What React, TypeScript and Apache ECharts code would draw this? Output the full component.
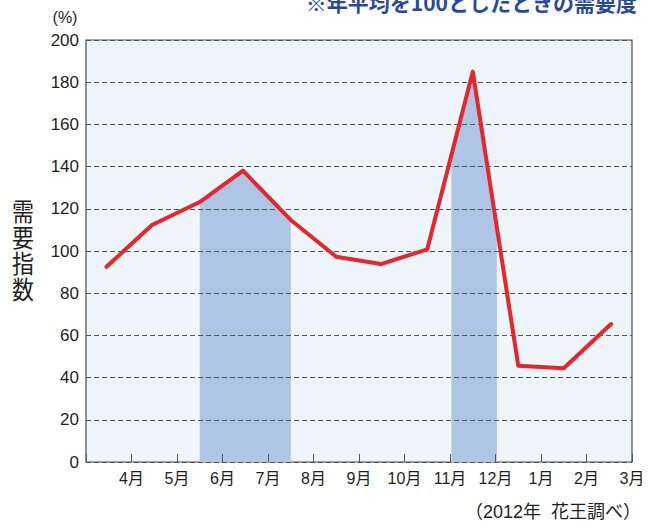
import React, { useEffect, useRef } from "react";
import * as echarts from "echarts";

// Tick labels placed at x = 1..12 (right edge of each month slot)
const monthLabels = ["4月", "5月", "6月", "7月", "8月", "9月", "10月", "11月", "12月", "1月", "2月", "3月"];
// Horizontal positions of the plotted points (in month-slot units)
const pointX = [0.45, 1.45, 2.5, 3.45, 4.5, 5.5, 6.48, 7.5, 8.5, 9.5, 10.5, 11.54];
// Demand index values (%)
const demand = [92.5, 112.3, 123.2, 138.1, 114.7, 97.3, 93.8, 100.8, 185, 45.6, 44.4, 65.4];
// Shaded ranges under the line (x from, x to)
const shadeRanges = [
  [2.5, 4.5],
  [8.03, 9.03],
];
const yTicks = { min: 0, max: 200, interval: 20 };
const yTitleChars = ["需", "要", "指", "数"];

const NUM_FONT = "'Liberation Sans', 'Noto Sans CJK JP', sans-serif";
const JP_FONT = "'Noto Sans CJK JP', 'Liberation Sans', sans-serif";

function lineValueAt(x: number): number {
  for (let i = 0; i < pointX.length - 1; i++) {
    const x0 = pointX[i];
    const x1 = pointX[i + 1];
    if (x >= x0 && x <= x1) {
      const t = (x - x0) / (x1 - x0);
      return demand[i] + t * (demand[i + 1] - demand[i]);
    }
  }
  return x < pointX[0] ? demand[0] : demand[demand.length - 1];
}

export default function App() {
  const ref = useRef<HTMLDivElement>(null);

  useEffect(() => {
    document.body.style.margin = "0";
    const chart = echarts.init(ref.current!, null, { renderer: "svg" });
    const lineData = pointX.map((x, i) => [x, demand[i]]);

    chart.setOption({
      animation: false,
      grid: {
        left: 86,
        right: 21,
        top: 40,
        bottom: 65,
        show: true,
        backgroundColor: "#EEF6FC",
        borderColor: "#4a4a4a",
        borderWidth: 1.2,
        z: 0,
      },
      xAxis: {
        type: "value",
        min: 0,
        max: 12,
        interval: 1,
        z: 2,
        axisLine: { show: false },
        axisTick: { show: true, inside: true, length: 8, lineStyle: { color: "#555", width: 1 } },
        splitLine: { show: false },
        axisLabel: {
          showMinLabel: true,
          showMaxLabel: true,
          formatter: (v: number) => (v >= 1 && v <= 12 ? monthLabels[Math.round(v) - 1] : ""),
          fontSize: 16,
          color: "#231F20",
          fontFamily: NUM_FONT,
          margin: 8,
        },
      },
      yAxis: {
        type: "value",
        min: yTicks.min,
        max: yTicks.max,
        interval: yTicks.interval,
        z: 2,
        axisLine: { show: false },
        axisTick: { show: false },
        splitLine: { show: true, lineStyle: { color: "#555", width: 1, type: [5, 3] } },
        axisLabel: { fontSize: 17, color: "#231F20", fontFamily: NUM_FONT, margin: 7 },
      },
      series: [
        {
          type: "custom",
          z: 1,
          data: shadeRanges,
          renderItem: (params: any, api: any) => {
            const a = api.value(0);
            const b = api.value(1);
            const pts: number[][] = [];
            pts.push(api.coord([a, 0]));
            pts.push(api.coord([a, lineValueAt(a)]));
            pointX.forEach((x, i) => {
              if (x > a && x < b) pts.push(api.coord([x, demand[i]]));
            });
            pts.push(api.coord([b, lineValueAt(b)]));
            pts.push(api.coord([b, 0]));
            return { type: "polygon", shape: { points: pts }, style: { fill: "#AFC5E5" } };
          },
        },
        {
          type: "line",
          z: 3,
          data: lineData,
          symbol: "none",
          lineStyle: { color: "#E8252D", width: 4, join: "round", cap: "round" },
        },
      ],
      graphic: [
        {
          type: "text",
          x: 637,
          y: 12,
          style: {
            text: "※年平均を100としたときの需要度",
            fill: "#2848A0",
            fontSize: 21,
            fontWeight: "bold",
            fontFamily: JP_FONT,
            align: "right",
            verticalAlign: "bottom",
          },
        },
        {
          type: "text",
          x: 65,
          y: 17,
          style: {
            text: "(%)",
            fill: "#231F20",
            fontSize: 16,
            fontFamily: NUM_FONT,
            align: "center",
            verticalAlign: "middle",
          },
        },
        ...yTitleChars.map((ch, i) => ({
          type: "text",
          x: 23,
          y: 210 + i * 26,
          scaleY: 1.12,
          style: {
            text: ch,
            fill: "#231F20",
            fontSize: 22,
            fontFamily: JP_FONT,
            align: "center",
            verticalAlign: "middle",
          },
        })),
        {
          type: "text",
          x: 641,
          y: 512,
          style: {
            text: "（2012年  花王調べ）",
            fill: "#231F20",
            fontSize: 18,
            fontFamily: NUM_FONT,
            align: "right",
            verticalAlign: "middle",
          },
        },
      ],
    });

    return () => chart.dispose();
  }, []);

  return <div ref={ref} style={{ width: 653, height: 527 }} />;
}
